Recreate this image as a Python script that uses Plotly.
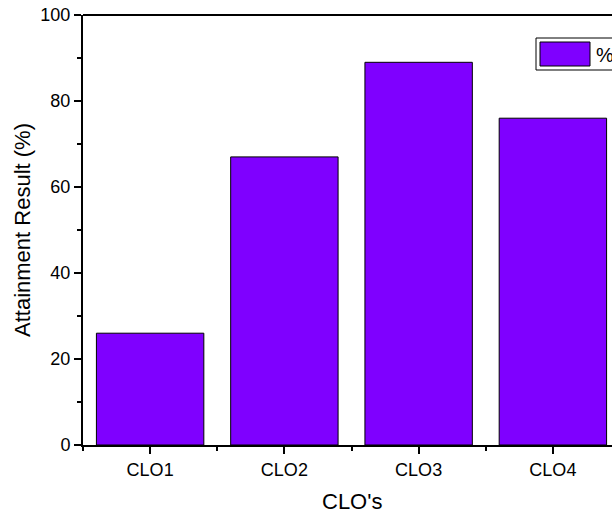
import plotly.graph_objects as go

categories = ["CLO1", "CLO2", "CLO3", "CLO4"]
values = [26, 67, 89, 76]
series_name = "%"
x_title = "CLO's"
y_title = "Attainment Result (%)"
y_ticks = [0, 20, 40, 60, 80, 100]

positions = list(range(len(categories)))

FONT = "Liberation Sans, Arial, sans-serif"
BAR_COLOR = "#7F00FF"

W, H = 612, 514
L, T = 83, 15
B = H - 445
pw = W - L
ph = H - T - B
UNIT = 134.25  # pixels per category in the reference

def px_x(p):
    return (p - L) / pw

def px_y(p):
    return (H - B - p) / ph

fig = go.Figure()
fig.add_trace(go.Bar(
    x=positions, y=values, name=series_name, width=0.8,
    marker=dict(color=BAR_COLOR, line=dict(color="#000000", width=1)),
    showlegend=False, hoverinfo="skip",
))

fig.update_layout(
    width=W, height=H,
    margin=dict(l=L, r=0, t=T, b=B, pad=0),
    paper_bgcolor="white", plot_bgcolor="white",
    font=dict(family=FONT, color="#000000", size=18),
)
fig.update_xaxes(
    range=[-0.5, -0.5 + pw / UNIT],
    tickmode="array", tickvals=positions, ticktext=categories,
    ticks="outside", ticklen=7, tickwidth=1.5, tickcolor="#000",
    minor=dict(dtick=0.5, tick0=-0.5, ticks="outside", ticklen=4, tickwidth=1.5, tickcolor="#000"),
    showline=True, linecolor="#000", linewidth=2,
    showgrid=False, zeroline=False,
    tickfont=dict(size=18, family=FONT),
)
fig.update_yaxes(
    range=[0, 100],
    tickmode="array", tickvals=y_ticks,
    ticks="outside", ticklen=7, tickwidth=1.5, tickcolor="#000",
    minor=dict(dtick=10, tick0=0, ticks="outside", ticklen=4, tickwidth=1.5, tickcolor="#000"),
    showline=True, linecolor="#000", linewidth=2,
    showgrid=False, zeroline=False,
    ticklabeloverflow="allow",
    tickfont=dict(size=18, family=FONT),
    title=dict(text=y_title, font=dict(size=22, family=FONT), standoff=4),
)

# x-axis title (centred on the full reference plot width, which runs past the window edge)
fig.add_annotation(xref="paper", yref="paper", x=px_x((83 + 620) / 2), y=px_y(502),
                   text=x_title, showarrow=False, xanchor="center", yanchor="middle",
                   font=dict(size=22, family=FONT, color="#000"))

# top frame line
fig.add_shape(type="line", xref="paper", yref="paper", x0=0, x1=1, y0=1, y1=1,
              line=dict(color="#000", width=2))

# manual legend (box, swatch, label)
fig.add_shape(type="rect", xref="paper", yref="paper",
              x0=px_x(536), x1=px_x(640), y0=px_y(70), y1=px_y(38),
              line=dict(color="#000", width=1), fillcolor="white")
fig.add_shape(type="rect", xref="paper", yref="paper",
              x0=px_x(540), x1=px_x(590), y0=px_y(66), y1=px_y(42),
              line=dict(color="#000", width=1), fillcolor=BAR_COLOR)
fig.add_annotation(xref="paper", yref="paper", x=px_x(594), y=px_y(55),
                   text=series_name, showarrow=False, xanchor="left", yanchor="middle",
                   font=dict(size=20, family=FONT, color="#000"))

fig.write_html("out.html", config={"displayModeBar": False},
               post_script="document.body.style.margin='0px';")
